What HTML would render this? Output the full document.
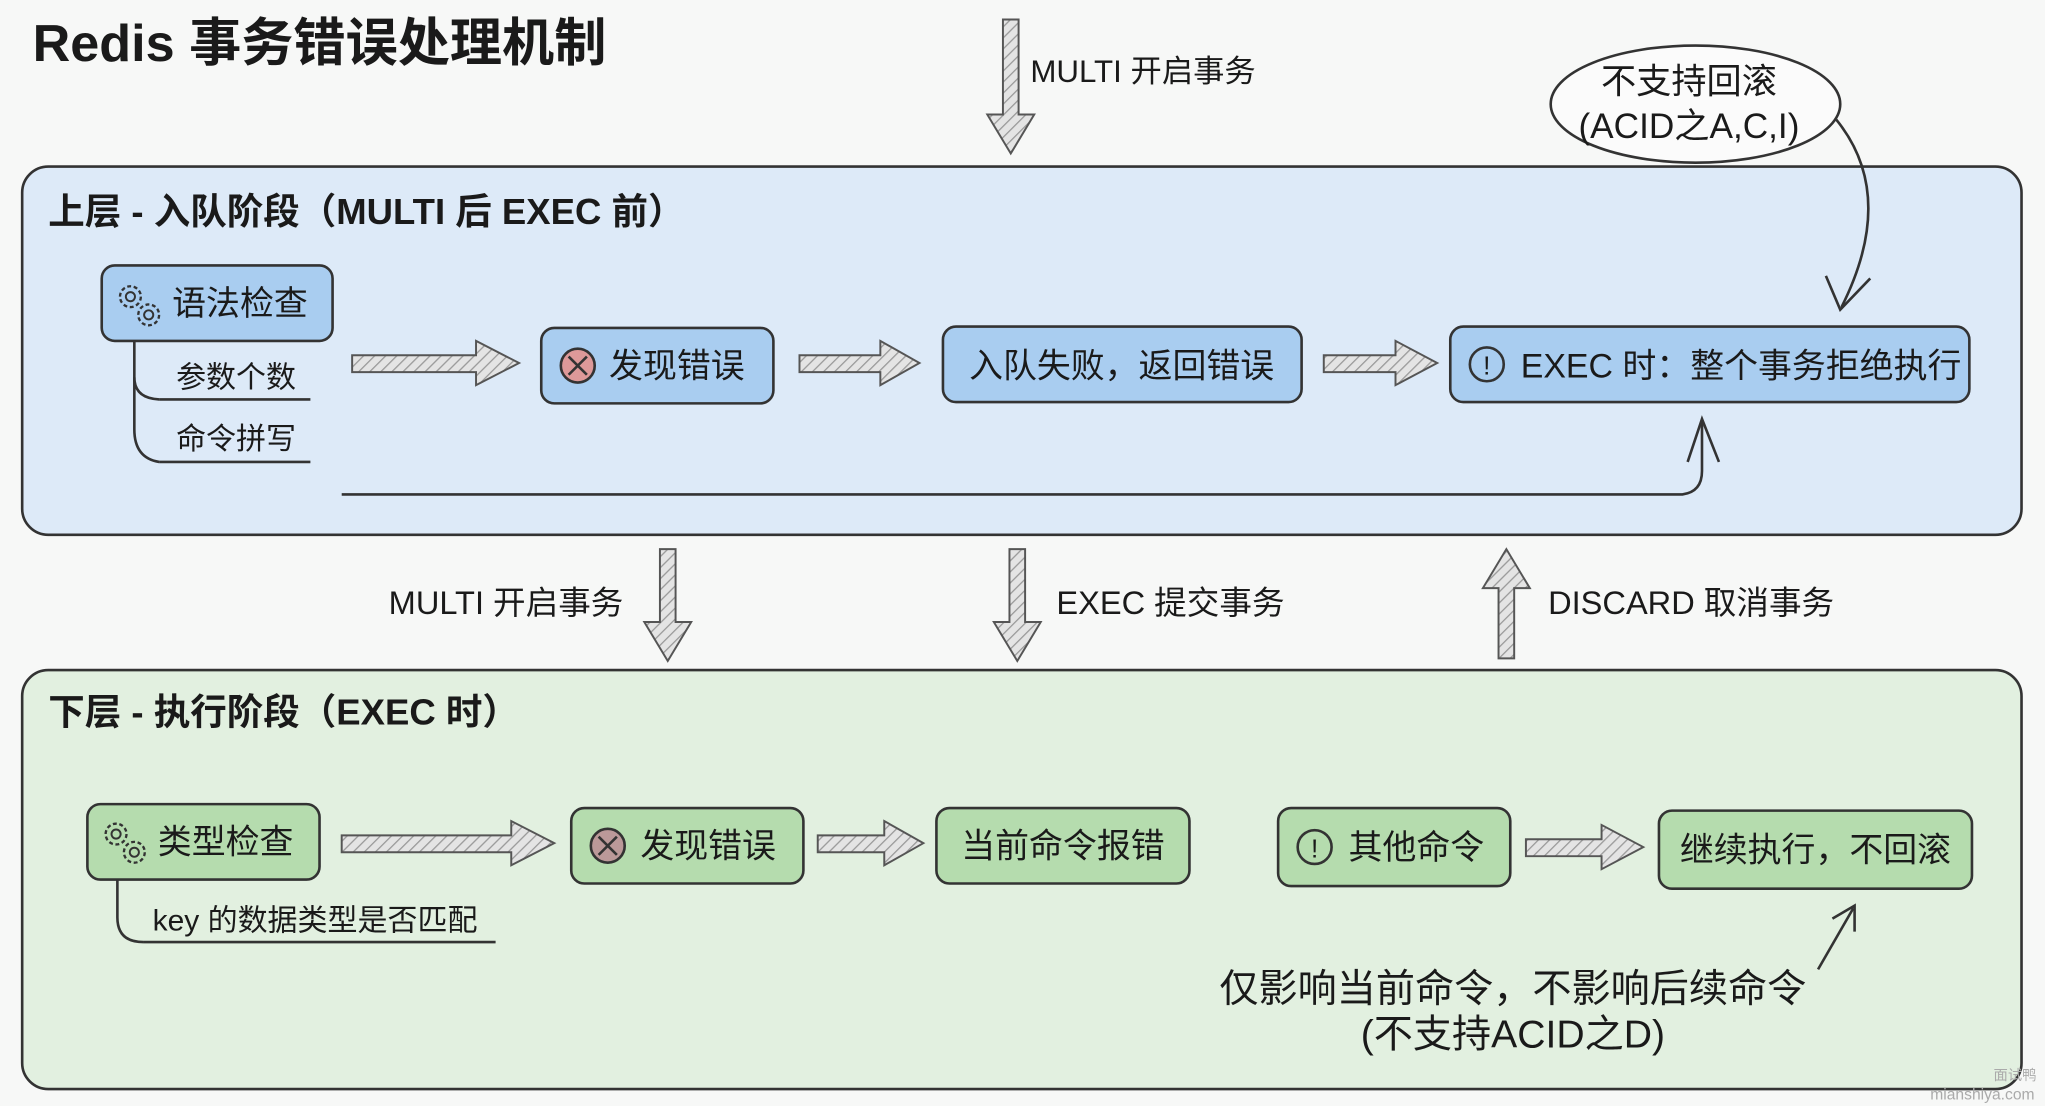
<!DOCTYPE html>
<html><head><meta charset="utf-8">
<style>
html,body{margin:0;padding:0;background:#f7f8f7;}
svg{display:block;}
text{font-family:"Liberation Sans","Noto Sans CJK SC",sans-serif;fill:#1a1a1a;}
</style></head><body>
<svg width="2045" height="1106" viewBox="0 0 1568 850" preserveAspectRatio="none" xmlns="http://www.w3.org/2000/svg">
<defs>
<pattern id="h" width="6" height="6" patternUnits="userSpaceOnUse" patternTransform="rotate(45)">
<rect width="6" height="6" fill="#e4e4e4"/><line x1="0" y1="0" x2="0" y2="6" stroke="#9a9a9a" stroke-width="2"/>
</pattern>
<g id="gear"><circle r="8" fill="none" stroke="#333" stroke-width="1.8" stroke-dasharray="3 2"/><circle r="3.5" fill="none" stroke="#333" stroke-width="1.5"/></g>
</defs>
<rect width="1568" height="850" fill="#f7f8f7"/>
<text x="25" y="47" font-size="40" font-weight="bold">Redis 事务错误处理机制</text>

<polygon points="769,15 781,15 781,88 793,88 775,118 757,88 769,88" fill="url(#h)" stroke="#555" stroke-width="1.5"/>
<text x="790" y="63" font-size="24">MULTI 开启事务</text>

<!-- upper panel -->
<rect x="17" y="128" width="1533" height="283" rx="20" fill="#ddeaf8" stroke="#333" stroke-width="2"/>
<text x="37" y="172" font-size="28" font-weight="bold">上层 - 入队阶段（MULTI 后 EXEC 前）</text>

<!-- ellipse -->
<ellipse cx="1300" cy="80" rx="111" ry="45" fill="#fbfbfb" stroke="#333" stroke-width="2"/>
<text x="1295" y="72" font-size="27" text-anchor="middle">不支持回滚</text>
<text x="1295" y="106" font-size="27" text-anchor="middle">(ACID之A,C,I)</text>
<path d="M1408,92 Q1455,150 1412,236" fill="none" stroke="#333" stroke-width="2"/>
<path d="M1400,212 L1411,238 L1434,214" fill="none" stroke="#333" stroke-width="2"/>

<rect x="78" y="204" width="177" height="58" rx="10" fill="#a9cdf0" stroke="#333" stroke-width="2"/>
<use href="#gear" x="100" y="228"/><use href="#gear" x="114" y="242"/>
<text x="132" y="242" font-size="26">语法检查</text>
<path d="M103,262 L103,330 Q103,352 122,355" fill="none" stroke="#333" stroke-width="2"/>
<path d="M103,290 Q103,306 122,307" fill="none" stroke="#333" stroke-width="2"/>
<text x="135" y="298" font-size="23">参数个数</text>
<line x1="122" y1="307" x2="238" y2="307" stroke="#333" stroke-width="2"/>
<text x="135" y="345" font-size="23">命令拼写</text>
<line x1="122" y1="355" x2="238" y2="355" stroke="#333" stroke-width="2"/>

<polygon points="270,273 365,273 365,262 398,279 365,296 365,286 270,286" fill="url(#h)" stroke="#555" stroke-width="1.5"/>

<rect x="415" y="252" width="178" height="58" rx="10" fill="#a9cdf0" stroke="#333" stroke-width="2"/>
<circle cx="443" cy="281" r="13" fill="#d99" stroke="#333" stroke-width="2"/>
<path d="M436,274 L450,288 M450,274 L436,288" stroke="#333" stroke-width="2"/>
<text x="467" y="290" font-size="26">发现错误</text>

<polygon points="613,273 675,273 675,262 705,279 675,296 675,286 613,286" fill="url(#h)" stroke="#555" stroke-width="1.5"/>

<rect x="723" y="251" width="275" height="58" rx="10" fill="#a9cdf0" stroke="#333" stroke-width="2"/>
<text x="860" y="290" font-size="26" text-anchor="middle">入队失败，返回错误</text>

<polygon points="1015,273 1070,273 1070,262 1102,279 1070,296 1070,286 1015,286" fill="url(#h)" stroke="#555" stroke-width="1.5"/>

<rect x="1112" y="251" width="398" height="58" rx="10" fill="#a9cdf0" stroke="#333" stroke-width="2"/>
<circle cx="1140" cy="280" r="13" fill="none" stroke="#333" stroke-width="2"/>
<text x="1140" y="288" font-size="20" text-anchor="middle">!</text>
<text x="1166" y="290" font-size="26">EXEC 时：整个事务拒绝执行</text>

<path d="M262,380 L1290,380 Q1305,378 1305,362 L1305,324" fill="none" stroke="#333" stroke-width="2"/>
<path d="M1294,355 L1305,322 L1318,355" fill="none" stroke="#333" stroke-width="2"/>

<polygon points="506,422 518,422 518,478 530,478 512,508 494,478 506,478" fill="url(#h)" stroke="#555" stroke-width="1.5"/>
<text x="478" y="472" font-size="25" text-anchor="end">MULTI 开启事务</text>
<polygon points="774,422 786,422 786,478 798,478 780,508 762,478 774,478" fill="url(#h)" stroke="#555" stroke-width="1.5"/>
<text x="810" y="472" font-size="25">EXEC 提交事务</text>
<polygon points="1149,506 1161,506 1161,452 1173,452 1155,422 1137,452 1149,452" fill="url(#h)" stroke="#555" stroke-width="1.5"/>
<text x="1187" y="472" font-size="25">DISCARD 取消事务</text>

<rect x="17" y="515" width="1533" height="322" rx="20" fill="#e2f0e0" stroke="#333" stroke-width="2"/>
<text x="37" y="557" font-size="28" font-weight="bold">下层 - 执行阶段（EXEC 时）</text>

<rect x="67" y="618" width="178" height="58" rx="10" fill="#b5dcae" stroke="#333" stroke-width="2"/>
<use href="#gear" x="89" y="641"/><use href="#gear" x="103" y="655"/>
<text x="121" y="656" font-size="26">类型检查</text>
<path d="M90,676 L90,705 Q90,724 110,724" fill="none" stroke="#333" stroke-width="2"/>
<text x="117" y="715" font-size="23">key 的数据类型是否匹配</text>
<line x1="110" y1="724" x2="380" y2="724" stroke="#333" stroke-width="2"/>

<polygon points="262,642 392,642 392,631 425,648 392,665 392,655 262,655" fill="url(#h)" stroke="#555" stroke-width="1.5"/>

<rect x="438" y="621" width="178" height="58" rx="10" fill="#b5dcae" stroke="#333" stroke-width="2"/>
<circle cx="466" cy="650" r="13" fill="#b99" stroke="#333" stroke-width="2"/>
<path d="M459,643 L473,657 M473,643 L459,657" stroke="#333" stroke-width="2"/>
<text x="491" y="659" font-size="26">发现错误</text>

<polygon points="627,642 678,642 678,631 708,648 678,665 678,655 627,655" fill="url(#h)" stroke="#555" stroke-width="1.5"/>

<rect x="718" y="621" width="194" height="58" rx="10" fill="#b5dcae" stroke="#333" stroke-width="2"/>
<text x="815" y="659" font-size="26" text-anchor="middle">当前命令报错</text>

<rect x="980" y="621" width="178" height="60" rx="10" fill="#b5dcae" stroke="#333" stroke-width="2"/>
<circle cx="1008" cy="651" r="13" fill="none" stroke="#333" stroke-width="2"/>
<text x="1008" y="659" font-size="20" text-anchor="middle">!</text>
<text x="1034" y="660" font-size="26">其他命令</text>

<polygon points="1170,645 1228,645 1228,634 1260,651 1228,668 1228,658 1170,658" fill="url(#h)" stroke="#555" stroke-width="1.5"/>

<rect x="1272" y="623" width="240" height="60" rx="10" fill="#b5dcae" stroke="#333" stroke-width="2"/>
<text x="1392" y="662" font-size="26" text-anchor="middle">继续执行，不回滚</text>

<text x="1160" y="770" font-size="30" text-anchor="middle">仅影响当前命令，不影响后续命令</text>
<text x="1160" y="805" font-size="30" text-anchor="middle">(不支持ACID之D)</text>
<path d="M1394,745 L1421,698" fill="none" stroke="#333" stroke-width="2"/>
<path d="M1405,706 L1422,696 L1422,716" fill="none" stroke="#333" stroke-width="2"/>

<text x="1545" y="830" font-size="11" style="fill:#aaa" text-anchor="middle">面试鸭</text>
<text x="1520" y="845" font-size="12" style="fill:#aaa" text-anchor="middle">mianshiya.com</text>
</svg>
</body></html>
